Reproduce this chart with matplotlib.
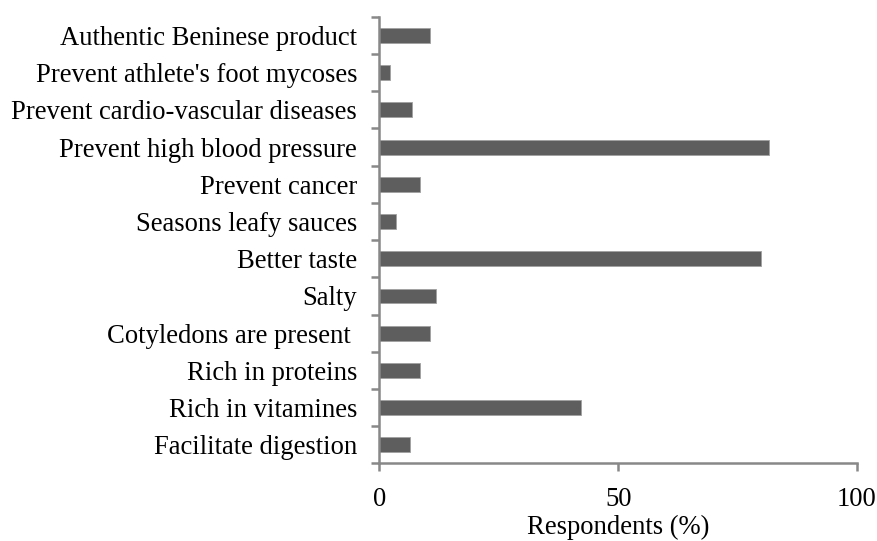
import matplotlib
matplotlib.use("Agg")
import matplotlib.pyplot as plt
import numpy as np

categories = [
    "Authentic Beninese product",
    "Prevent athlete's foot mycoses",
    "Prevent cardio-vascular diseases",
    "Prevent high blood pressure",
    "Prevent cancer",
    "Seasons leafy sauces",
    "Better taste",
    "Salty",
    "Cotyledons are present ",
    "Rich in proteins",
    "Rich in vitamines",
    "Facilitate digestion",
]
values = [10.5, 2.2, 6.9, 81.6, 8.5, 3.4, 79.9, 11.8, 10.5, 8.5, 42.3, 6.4]
xticks = [0, 50, 100]

plt.rcParams['font.family'] = ['Liberation Serif', 'DejaVu Serif']

fig = plt.figure(figsize=(8.78, 5.41), dpi=100)
ax = fig.add_axes([0.4322, 0.1433, 0.976 - 0.4322, 0.969 - 0.1433])

n = len(categories)
pos = np.arange(n)[::-1]
ax.barh(pos, values, height=0.4, color='#5e5e5e', edgecolor='#a0a0a0', linewidth=0.6)

ax.set_xlim(0, 100)
ax.set_ylim(-0.5, n - 0.5)
ax.set_yticks(pos)
ax.set_yticklabels(categories, fontsize=19.2)
ax.set_yticks(np.arange(-0.5, n, 1.0), minor=True)
ax.tick_params(axis='y', which='major', length=0, pad=16)
ax.tick_params(axis='y', which='minor', length=6, width=1.8, color='#888888', direction='out')
ax.set_xticks(xticks)
ax.set_xticklabels([str(t) for t in xticks], fontsize=19.2)
ax.tick_params(axis='x', which='major', length=6, width=1.8, color='#888888', direction='out', pad=11)
ax.set_xlabel("Respondents (%)", fontsize=19.2, labelpad=2)

for s in ['top', 'right']:
    ax.spines[s].set_visible(False)
for s in ['left', 'bottom']:
    ax.spines[s].set_color('#888888')
    ax.spines[s].set_linewidth(1.8)

fig.savefig("out.png", dpi=100)
